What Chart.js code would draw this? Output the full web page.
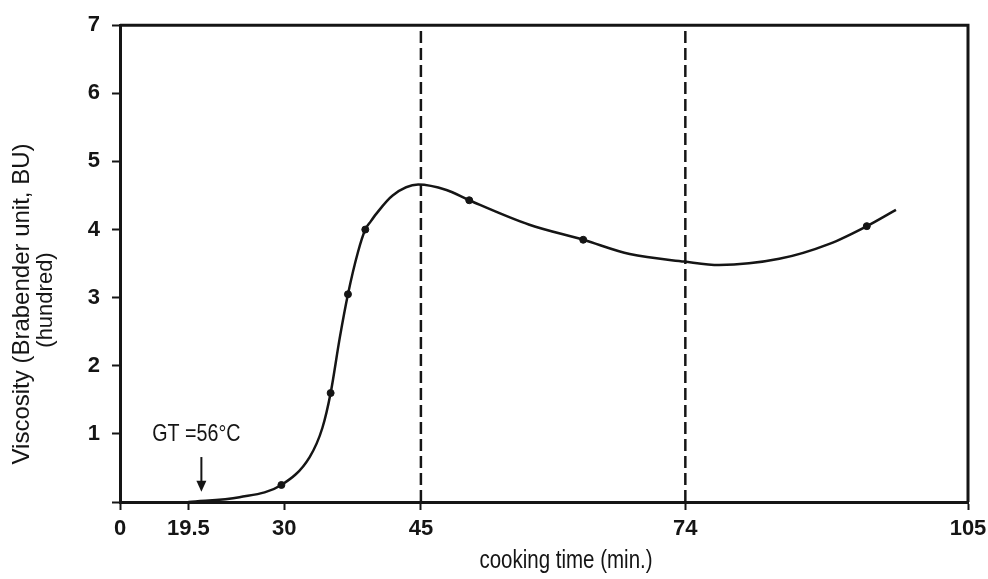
<!DOCTYPE html>
<html>
<head>
<meta charset="utf-8">
<script src="https://cdn.jsdelivr.net/npm/chart.js@4.4.1/dist/chart.umd.min.js"></script>
<style>
  html, body { margin: 0; padding: 0; background: #fff; }
  #wrap { width: 988px; height: 579px; }
</style>
</head>
<body>
<div id="wrap"><canvas id="chart" width="988" height="579"></canvas></div>
<script>
// cooking time (min) and viscosity (hundred BU)
const curveTime = [19.5, 25.1, 29.7, 32.8, 34.2, 35.1, 36.1, 37.0, 38.1, 38.9, 39.5, 40.1, 41.9, 44.7, 47.8, 50.3, 56.9, 62.8, 67.9, 73.9, 77.7, 84.3, 89.8, 93.9, 97.1];
const curveVisc = [0.0, 0.07, 0.25, 0.66, 1.09, 1.60, 2.41, 3.05, 3.67, 4.00, 4.12, 4.23, 4.50, 4.66, 4.58, 4.43, 4.07, 3.85, 3.64, 3.53, 3.48, 3.57, 3.79, 4.05, 4.29];

// measured points (dots on the curve)
const dotTime = [29.7, 35.1, 37.0, 38.9, 50.3, 62.8, 93.9];
const dotVisc = [0.25, 1.60, 3.05, 4.00, 4.43, 3.85, 4.05];

// dashed markers
const markerTimes = [45, 74];

// axis (x axis is broken between 0 and 19.5)
const xStart = 12;
const xEnd = 105;
const xTickValues = [12, 19.5, 30, 45, 74, 105];
const xTickLabels = ['0', '19.5', '30', '45', '74', '105'];
const yMax = 7;

const gtTime = 19.5;
const gtLabel = 'GT =56\u00B0C';

const sans = "'Liberation Sans', Arial, sans-serif";
const ink = '#151515';

const toPoints = (xs, ys) => xs.map((x, i) => ({ x: x, y: ys[i] }));

const markerSets = markerTimes.map(t => ({
    data: [{ x: t, y: 0 }, { x: t, y: yMax }],
    borderColor: ink,
    borderWidth: 2.5,
    borderDash: [12, 5],
    pointRadius: 0,
    fill: false
}));

// condensed text, like the scanned original
function narrowText(ctx, text, x, y, size) {
    ctx.save();
    ctx.font = size + 'px ' + sans;
    ctx.translate(x, y);
    ctx.scale(0.82, 1);
    ctx.fillText(text, 0, 0);
    ctx.restore();
}

const extras = {
    id: 'extras',
    beforeDatasetsDraw(chart) {
        const { ctx, chartArea: a } = chart;
        ctx.save();
        ctx.strokeStyle = ink;
        ctx.lineWidth = 3;
        ctx.beginPath();
        ctx.moveTo(a.left, a.top);
        ctx.lineTo(a.right, a.top);
        ctx.lineTo(a.right, a.bottom);
        ctx.stroke();
        ctx.restore();
    },
    afterDraw(chart) {
        const { ctx, scales: { x, y } } = chart;
        ctx.save();
        ctx.fillStyle = ink;
        ctx.strokeStyle = ink;
        ctx.textAlign = 'center';
        ctx.textBaseline = 'middle';

        // y title
        ctx.save();
        ctx.font = '24px ' + sans;
        ctx.translate(22, 304);
        ctx.rotate(-Math.PI / 2);
        ctx.fillText('Viscosity (Brabender unit, BU)', 0, 0);
        ctx.restore();
        ctx.save();
        ctx.font = '22px ' + sans;
        ctx.translate(46, 300);
        ctx.rotate(-Math.PI / 2);
        ctx.fillText('(hundred)', 0, 0);
        ctx.restore();

        // x title
        narrowText(ctx, 'cooking time (min.)', 566, 561, 25);

        // GT annotation
        const gx = x.getPixelForValue(gtTime) + 13;
        narrowText(ctx, gtLabel, gx - 5, y.getPixelForValue(1.0), 24);
        const y0 = y.getPixelForValue(0.66);
        const y1 = y.getPixelForValue(0.15);
        ctx.lineWidth = 2;
        ctx.beginPath();
        ctx.moveTo(gx, y0);
        ctx.lineTo(gx, y1 - 8);
        ctx.stroke();
        ctx.beginPath();
        ctx.moveTo(gx - 5, y1 - 11);
        ctx.lineTo(gx + 5, y1 - 11);
        ctx.lineTo(gx, y1);
        ctx.closePath();
        ctx.fill();
        ctx.restore();
    }
};

new Chart(document.getElementById('chart'), {
    type: 'line',
    data: {
        datasets: [
            {
                data: toPoints(curveTime, curveVisc),
                borderColor: ink,
                borderWidth: 2.5,
                cubicInterpolationMode: 'monotone',
                pointRadius: 0,
                fill: false
            },
            {
                data: toPoints(dotTime, dotVisc),
                showLine: false,
                pointRadius: 3.5,
                pointBackgroundColor: ink,
                pointBorderColor: ink
            },
            ...markerSets
        ]
    },
    options: {
        responsive: false,
        animation: false,
        events: [],
        layout: { padding: { top: 12, right: 20, left: 0, bottom: 0 } },
        plugins: {
            legend: { display: false },
            tooltip: { enabled: false }
        },
        scales: {
            x: {
                type: 'linear',
                min: xStart,
                max: xEnd,
                afterBuildTicks: scale => {
                    scale.ticks = xTickValues.map(v => ({ value: v }));
                },
                afterFit: scale => {
                    scale.height = 77;
                    scale.paddingLeft = 0;
                    scale.paddingRight = 0;
                },
                ticks: {
                    autoSkip: false,
                    maxRotation: 0,
                    color: ink,
                    padding: 6,
                    font: { family: sans, size: 22, weight: 'bold' },
                    callback: (v, i) => xTickLabels[i]
                },
                grid: {
                    drawOnChartArea: false,
                    drawTicks: true,
                    tickLength: 8,
                    tickColor: ink,
                    tickWidth: 2
                },
                border: { display: true, color: ink, width: 3 }
            },
            y: {
                min: 0,
                max: yMax,
                afterFit: scale => { scale.width = 120; },
                ticks: {
                    stepSize: 1,
                    color: ink,
                    padding: 12,
                    font: { family: sans, size: 22, weight: 'bold' },
                    callback: v => (v === 0 ? '' : v)
                },
                grid: {
                    drawOnChartArea: false,
                    drawTicks: true,
                    tickLength: 8,
                    tickColor: ink,
                    tickWidth: 2
                },
                border: { display: true, color: ink, width: 3 }
            }
        }
    },
    plugins: [extras]
});
</script>
</body>
</html>
